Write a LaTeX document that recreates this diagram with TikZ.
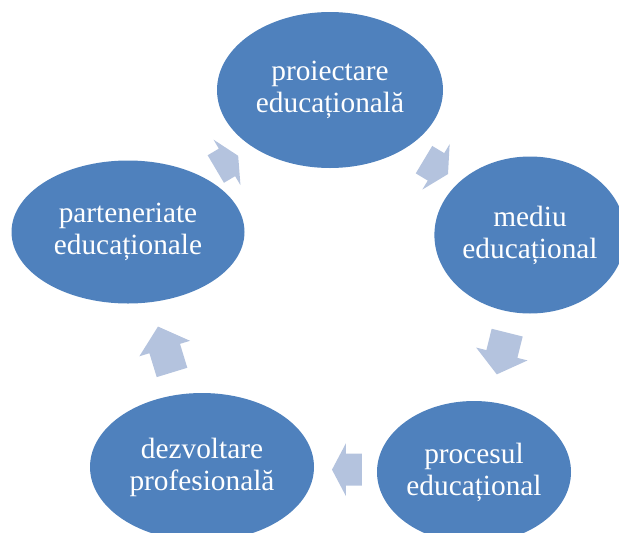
\documentclass[tikz,border=0pt]{standalone}
\usepackage{fontspec}
\setmainfont{Liberation Serif}
\usetikzlibrary{shapes.geometric,calc}

\definecolor{ellblue}{HTML}{4F81BD}
\definecolor{arrblue}{HTML}{B4C3DE}

\tikzset{
  stage/.style={ellipse,fill=ellblue,draw=none,inner sep=0pt,text=white,
    align=center,font=\fontsize{22}{24}\selectfont},
  arrowfill/.style={fill=arrblue}
}

% block arrow: position, angle, length, head length
\newcommand{\cyclearrow}[4]{%
  \fill[arrowfill,shift={#1},rotate=#2]
    (-#3/2,-16) -- ({#3/2-#4},-16) -- ({#3/2-#4},-26.5) -- (#3/2,0)
    -- ({#3/2-#4},26.5) -- ({#3/2-#4},16) -- (-#3/2,16) -- cycle;}

\begin{document}
\begin{tikzpicture}
\begin{scope}[x=0.75pt,y=-0.75pt]
\useasboundingbox (0,0) rectangle (619,533);

% stages
\node[stage,minimum width=169.5pt,minimum height=117pt] (proiect) at (330,90) {proiectare\\educațională};
\node[stage,minimum width=142.5pt,minimum height=117.75pt] (mediu) at (530,235) {mediu\\educațional};
\node[stage,minimum width=145.5pt,minimum height=106.5pt] (proces) at (474,472) {procesul\\educațional};
\node[stage,minimum width=168pt,minimum height=111pt] (dezv) at (202,467) {dezvoltare\\profesională};
\node[stage,minimum width=174.75pt,minimum height=107.25pt] (parten) at (128,232) {parteneriate\\educaționale};

% arrows
\cyclearrow{($(parten)!0.49!(proiect)$)}{30.6}{26}{13}
\cyclearrow{($(proiect)!0.53!(mediu)$)}{-31}{28}{14}
\cyclearrow{($(mediu)!0.5!(proces)$)}{-104}{43}{21}
\cyclearrow{($(proces)!0.467!(dezv)$)}{180}{30}{14}
\cyclearrow{($(dezv)!0.5!(parten)$)}{107}{48}{23}

\end{scope}
\end{tikzpicture}
\end{document}
